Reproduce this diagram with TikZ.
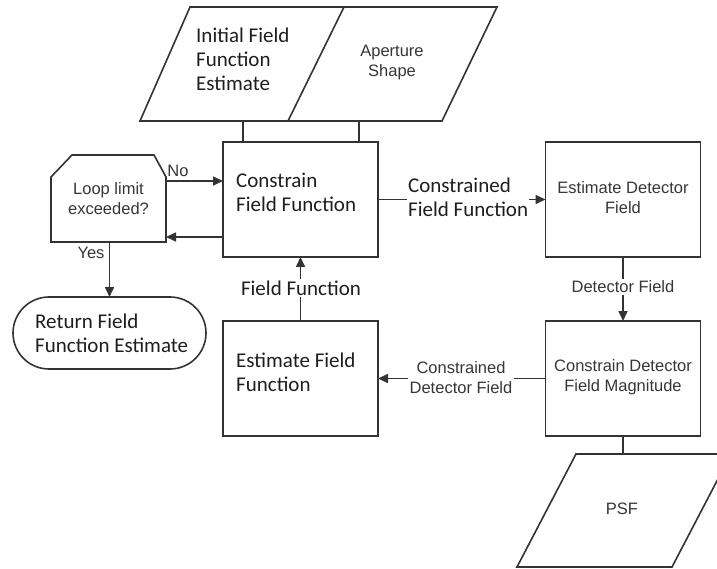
\documentclass[tikz,border=0pt]{standalone}
\usepackage{fontspec}
\setmainfont{Liberation Sans}
\newfontfamily\calib{Carlito}
\usetikzlibrary{arrows.meta}
\definecolor{linec}{HTML}{333333}
\definecolor{txtg}{HTML}{363636}
\definecolor{txtc}{HTML}{1E1E1E}
\begin{document}
\begin{tikzpicture}[x=1pt,y=-1pt,
  line/.style={draw=linec, line width=1.6pt},
  arr/.style={line, -{Triangle[length=10pt,width=9pt]}},
  box/.style={line, rectangle, minimum width=155pt, minimum height=115pt, inner sep=0pt, outer sep=0pt},
  ctext/.style={font=\calib\fontsize{21}{24}\selectfont, text=txtc, align=left, inner sep=0pt},
  atext/.style={font=\fontsize{16.5}{20}\selectfont, text=txtg, align=center, inner sep=0pt},
  lbl/.style={fill=white, inner sep=2pt}
]
\useasboundingbox (0,0) rectangle (717,569);

% input parallelograms
\coordinate (pa1) at (190,7);
\coordinate (pa2) at (344,7);
\coordinate (pa3) at (288,121);
\coordinate (pa4) at (140,121);
\coordinate (pb2) at (497,7);
\coordinate (pb3) at (442,121);
\draw[line] (pa4) -- (pa1) -- (pb2) -- (pb3) -- cycle;
\draw[line] (pa2) -- (pa3);
\node[ctext, anchor=west] (init) at (196,59) {Initial Field\\Function\\Estimate};
\node[atext] (aper) at (392,63) {Aperture\\Shape};

% process boxes
\node[box] (cff) at (300.5,199.5) {};
\node[box] (edf) at (623,199.5) {};
\node[box] (cdf) at (623,378.5) {};
\node[box] (eff) at (300.5,378.5) {};
\node[ctext, anchor=west] (cfft) at (236,192) {Constrain\\Field Function};
\node[atext] (edft) at (623,198) {Estimate Detector\\Field};
\node[atext] (cdft) at (623,377) {Constrain Detector\\Field Magnitude};
\node[ctext, anchor=west] (efft) at (236,372) {Estimate Field\\Function};

% loop limit decision
\node[minimum width=115pt, minimum height=87pt, inner sep=0pt, outer sep=0pt] (loop) at (108.5,198.5) {};
\draw[line] (loop.south west) -- ([yshift=-22pt]loop.north west) -- ([xshift=21pt]loop.north west)
  -- ([xshift=-12pt]loop.north east) -- ([yshift=-22pt]loop.north east) -- (loop.south east) -- cycle;
\node[atext] (loopt) at (108.5,198.5) {Loop limit\\exceeded?};

% terminator
\node[line, rectangle, rounded corners=36pt, minimum width=193pt, minimum height=72pt, inner sep=0pt, outer sep=0pt] (ret) at (109.5,333) {};
\node[ctext, anchor=west] (rett) at (35,333) {Return Field\\Function Estimate};

% PSF output
\coordinate (ps1) at (576,454);
\coordinate (ps2) at (731,454);
\coordinate (ps3) at (672,567);
\coordinate (ps4) at (517,567);
\draw[line] (ps1) -- (ps2) -- (ps3) -- (ps4) -- cycle;
\node[atext] (psf) at (622,509) {PSF};

% connectors
\coordinate (ia) at (243,121);
\coordinate (ab) at (359,121);
\draw[line] (ia) -- (ia |- cff.north);
\draw[line] (ab) -- (ab |- cff.north);
\draw[line] (cdf.south) -- (cdf.south |- ps1);

\draw[arr] ([yshift=17.5pt]loop.east) coordinate (n1) -- (n1 -| cff.west);
\draw[arr] ([yshift=-37.5pt]cff.west) coordinate (r1) -- (r1 -| loop.east);
\draw[arr] (loop.south -| ret.north) -- (ret.north);
\draw[arr] (cff.east) -- (edf.west);
\draw[arr] (edf.south) -- (cdf.north);
\draw[arr] (cdf.west) -- (eff.east);
\draw[arr] (eff.north) -- (cff.south);

% connector labels
\node[atext] (nolbl) at (178,171) {No};
\node[atext] (yeslbl) at (91,253) {Yes};
\node[ctext, fill=white, inner sep=1pt, anchor=west] (cfflbl) at (407,197) {Constrained\\Field Function};
\node[atext, lbl] (dflbl) at (623,287) {Detector Field};
\node[atext, lbl] (cdflbl) at (461,378) {Constrained\\Detector Field};
\node[ctext, lbl] (fflbl) at (301,288) {Field Function};
\end{tikzpicture}
\end{document}
